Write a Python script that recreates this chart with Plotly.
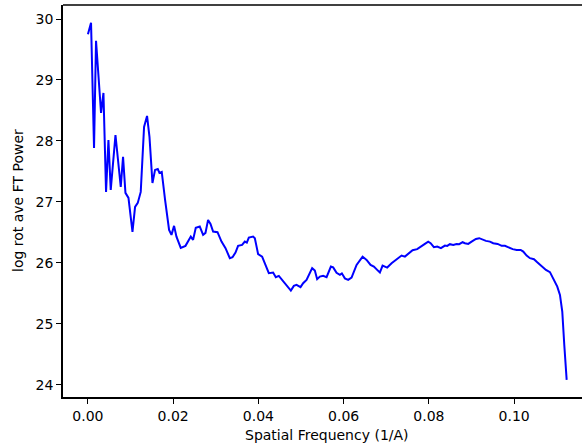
import plotly.graph_objects as go

freq = [0.0, 0.00073, 0.00143, 0.0019, 0.00308, 0.00364, 0.00425, 0.00481, 0.00535, 0.00646,
        0.0077, 0.00824, 0.0088, 0.00951, 0.01045, 0.01106, 0.01169, 0.01239, 0.01317, 0.01387,
        0.01444, 0.01514, 0.01575, 0.01638, 0.01678, 0.01732, 0.0181, 0.01904, 0.0196, 0.02021,
        0.02077, 0.02178, 0.02289, 0.02413, 0.02467, 0.0253, 0.02624, 0.02702, 0.02758, 0.02819,
        0.02876, 0.02937, 0.0304, 0.03134, 0.03228, 0.03329, 0.03392, 0.03462, 0.03523, 0.03617,
        0.03681, 0.03728, 0.03775, 0.03876, 0.03916, 0.03993, 0.04087, 0.0419, 0.04244, 0.04345,
        0.04408, 0.04479, 0.04542, 0.04636, 0.04697, 0.04761, 0.04831, 0.04894, 0.04988, 0.05049,
        0.05129, 0.05207, 0.05261, 0.05324, 0.05378, 0.05441, 0.05519, 0.05599, 0.057, 0.05754,
        0.05833, 0.05911, 0.05958, 0.06028, 0.06106, 0.06185, 0.06303, 0.06444, 0.06538, 0.06631,
        0.06709, 0.06786, 0.0685, 0.06913, 0.06967, 0.07021, 0.07124, 0.07242, 0.07359, 0.07437,
        0.07514, 0.07617, 0.07725, 0.07829, 0.07906, 0.07984, 0.0804, 0.08117, 0.08195, 0.08282,
        0.08376, 0.0843, 0.08493, 0.0857, 0.0865, 0.08711, 0.08791, 0.08845, 0.08923, 0.09002,
        0.09103, 0.09181, 0.09261, 0.09338, 0.09432, 0.09509, 0.09613, 0.09707, 0.09784, 0.09862,
        0.09965, 0.10059, 0.10153, 0.10214, 0.10293, 0.10371, 0.10465, 0.10542, 0.10646, 0.10746,
        0.1084, 0.10934, 0.11012, 0.11075, 0.11129, 0.11176, 0.11232]

power = [29.75, 29.94, 27.885, 29.644, 28.459, 28.787, 27.164, 28.016, 27.197, 28.098,
         27.246, 27.738, 27.148, 27.066, 26.508, 26.918, 26.984, 27.164, 28.23, 28.41,
         28.066, 27.311, 27.525, 27.541, 27.475, 27.492, 27.033, 26.541, 26.459, 26.607,
         26.431, 26.246, 26.279, 26.431, 26.377, 26.574, 26.595, 26.459, 26.492, 26.705,
         26.639, 26.513, 26.503, 26.349, 26.241, 26.077, 26.093, 26.169, 26.279, 26.295,
         26.349, 26.333, 26.415, 26.431, 26.405, 26.143, 26.103, 25.913, 25.831, 25.841,
         25.766, 25.787, 25.733, 25.667, 25.611, 25.546, 25.623, 25.639, 25.602, 25.667,
         25.721, 25.831, 25.913, 25.874, 25.733, 25.775, 25.787, 25.766, 25.939, 25.926,
         25.836, 25.803, 25.828, 25.746, 25.721, 25.759, 25.967, 26.103, 26.049, 25.967,
         25.939, 25.885, 25.841, 25.956, 25.939, 25.923, 25.995, 26.061, 26.12, 26.103,
         26.143, 26.208, 26.225, 26.267, 26.311, 26.349, 26.323, 26.257, 26.267, 26.241,
         26.284, 26.279, 26.307, 26.295, 26.311, 26.307, 26.339, 26.323, 26.311, 26.349,
         26.393, 26.405, 26.377, 26.361, 26.349, 26.323, 26.311, 26.279, 26.279, 26.251,
         26.225, 26.213, 26.213, 26.185, 26.12, 26.077, 26.061, 26.011, 25.939, 25.885,
         25.848, 25.721, 25.611, 25.475, 25.202, 24.656, 24.082]

x_ticks = [0.0, 0.02, 0.04, 0.06, 0.08, 0.10]
x_tick_labels = ["0.00", "0.02", "0.04", "0.06", "0.08", "0.10"]
y_ticks = [24, 25, 26, 27, 28, 29, 30]
y_tick_labels = ["24", "25", "26", "27", "28", "29", "30"]
x_title = "Spatial Frequency (1/A)"
y_title = "log rot ave FT Power"

FONT = "DejaVu Sans"

fig = go.Figure()
fig.add_trace(go.Scatter(x=freq, y=power, mode="lines",
                         line=dict(color="#0000ff", width=2), showlegend=False))

axis_common = dict(showgrid=False, zeroline=False, showline=True, linecolor="black",
                   linewidth=1.5, mirror=False,
                   ticks="outside", ticklen=5, tickwidth=1, tickcolor="black",
                   automargin=False,
                   tickfont=dict(family=FONT, size=14, color="black"))

fig.update_xaxes(range=[-0.00585, 0.11592], tickvals=x_ticks, ticktext=x_tick_labels,
                 **axis_common)
fig.update_yaxes(range=[23.80, 30.23], tickvals=y_ticks, ticktext=y_tick_labels,
                 **axis_common)

frame = dict(color="black", width=1.5)
fig.add_shape(type="line", xref="paper", yref="paper", x0=0, x1=1, y0=1, y1=1, line=frame)

fig.add_annotation(text=x_title, xref="x", yref="paper", x=0.05606, y=-0.097,
                   xanchor="center", yanchor="middle", showarrow=False,
                   font=dict(family=FONT, size=14, color="black"))
fig.add_annotation(text=y_title, xref="paper", yref="paper", x=-0.0867, y=0.5,
                   xanchor="center", yanchor="middle", textangle=-90, showarrow=False,
                   font=dict(family=FONT, size=14, color="black"))

fig.update_layout(width=582, height=446, margin=dict(l=63, r=0, t=5, b=49),
                  paper_bgcolor="white", plot_bgcolor="white")

fig.write_html("out.html", config={"displayModeBar": False},
               post_script="document.body.style.margin='0';document.body.style.overflow='hidden';")
